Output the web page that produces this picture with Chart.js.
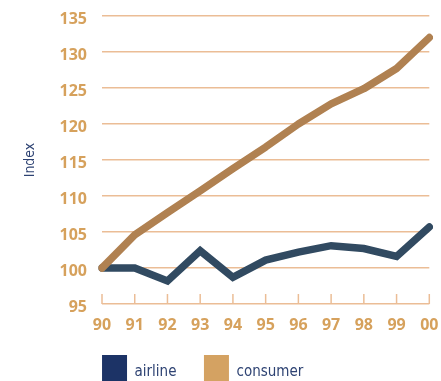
<!DOCTYPE html>
<html>
<head>
<meta charset="utf-8">
<script src="https://cdn.jsdelivr.net/npm/chart.js@4"></script>
<style>
  html, body { margin: 0; padding: 0; background: #ffffff; overflow: hidden; }
  #wrap { width: 441px; height: 381px; overflow: hidden; }
  canvas { display: block; }
</style>
</head>
<body>
<div id="wrap"><canvas id="chart" width="441" height="400"></canvas></div>
<script>
// Index values, 1990 = 100
const years = ['90', '91', '92', '93', '94', '95', '96', '97', '98', '99', '00'];
const airline = [100, 100, 98.2, 102.4, 98.7, 101.1, 102.2, 103.1, 102.7, 101.6, 105.7];
const consumer = [100, 104.6, 107.7, 110.7, 113.8, 116.8, 120.0, 122.8, 124.9, 127.7, 132.0];
const seriesNames = ['airline', 'consumer'];
const yMin = 95;
const yMax = 135;
const yStep = 5;
const yTitle = 'Index';

// Styling
const gridColor = '#EBBD96';
const tickColor = '#D6A15C';
const navyText = '#2E4373';
const airlineLine = '#314A61';
const consumerLine = '#B08151';
const airlineSwatch = '#1C3366';
const consumerSwatch = '#D4A262';
const narrowFont = "'DejaVu Sans Condensed', 'Liberation Sans Narrow', 'Liberation Sans', sans-serif";
const boldFont = "'Open Sans', 'Liberation Sans', sans-serif";
const clear = 'rgba(0,0,0,0)';

// Short upward tick marks standing on the baseline at each year
const innerTicks = {
  id: 'innerTicks',
  beforeDatasetsDraw(chart) {
    const xs = chart.scales.x;
    const ys = chart.scales.y;
    const base = ys.getPixelForValue(yMin);
    const ctx = chart.ctx;
    ctx.save();
    ctx.strokeStyle = gridColor;
    ctx.lineWidth = 1.5;
    years.forEach((_, i) => {
      const px = xs.getPixelForValue(i);
      ctx.beginPath();
      ctx.moveTo(px, base);
      ctx.lineTo(px, base - 10);
      ctx.stroke();
    });
    ctx.restore();
  }
};

const swatches = [airlineSwatch, consumerSwatch];

new Chart(document.getElementById('chart'), {
  type: 'line',
  data: {
    labels: years,
    datasets: [
      {
        label: seriesNames[0],
        data: airline,
        borderColor: airlineLine,
        backgroundColor: airlineSwatch,
        borderWidth: 7.5,
        borderCapStyle: 'round',
        borderJoinStyle: 'miter',
        pointRadius: 0,
        tension: 0,
        fill: false,
        order: 1
      },
      {
        label: seriesNames[1],
        data: consumer,
        borderColor: consumerLine,
        backgroundColor: consumerSwatch,
        borderWidth: 7.5,
        borderCapStyle: 'round',
        borderJoinStyle: 'round',
        pointRadius: 0,
        tension: 0,
        fill: false,
        order: 0
      }
    ]
  },
  options: {
    responsive: false,
    animation: false,
    events: [],
    layout: { padding: { top: 16, right: 11.7, bottom: 0, left: -24 } },
    scales: {
      x: {
        type: 'category',
        offset: false,
        grid: { display: false },
        border: { display: false },
        ticks: {
          color: tickColor,
          font: { family: boldFont, size: 16, weight: 'bold' },
          mirror: true,
          padding: -31.5,
          maxRotation: 0,
          autoSkip: false
        },
        afterFit(scale) { scale.height = 23.5; }
      },
      y: {
        min: yMin,
        max: yMax,
        grid: { color: gridColor, lineWidth: 1.5, drawTicks: true, tickLength: 15, tickColor: clear },
        border: { display: false },
        ticks: {
          stepSize: yStep,
          color: tickColor,
          font: { family: boldFont, size: 16, weight: 'bold' },
          padding: 0,
          labelOffset: 3
        },
        title: {
          display: true,
          text: yTitle,
          color: navyText,
          font: { family: narrowFont, size: 14, weight: 'normal' },
          padding: { top: 46.2, bottom: 0 }
        },
        afterFit(scale) { scale.width = 126; }
      }
    },
    plugins: {
      tooltip: { enabled: false },
      legend: {
        position: 'bottom',
        align: 'center',
        labels: {
          boxWidth: 25,
          boxHeight: 35,
          padding: 27.5,
          color: navyText,
          font: { family: narrowFont, size: 15, weight: 'normal' },
          generateLabels(chart) {
            return chart.data.datasets.map((ds, i) => ({
              text: ds.label,
              fillStyle: swatches[i],
              strokeStyle: swatches[i],
              lineWidth: 0,
              fontColor: navyText,
              hidden: false,
              datasetIndex: i
            }));
          }
        }
      }
    }
  },
  plugins: [innerTicks]
});
</script>
</body>
</html>
